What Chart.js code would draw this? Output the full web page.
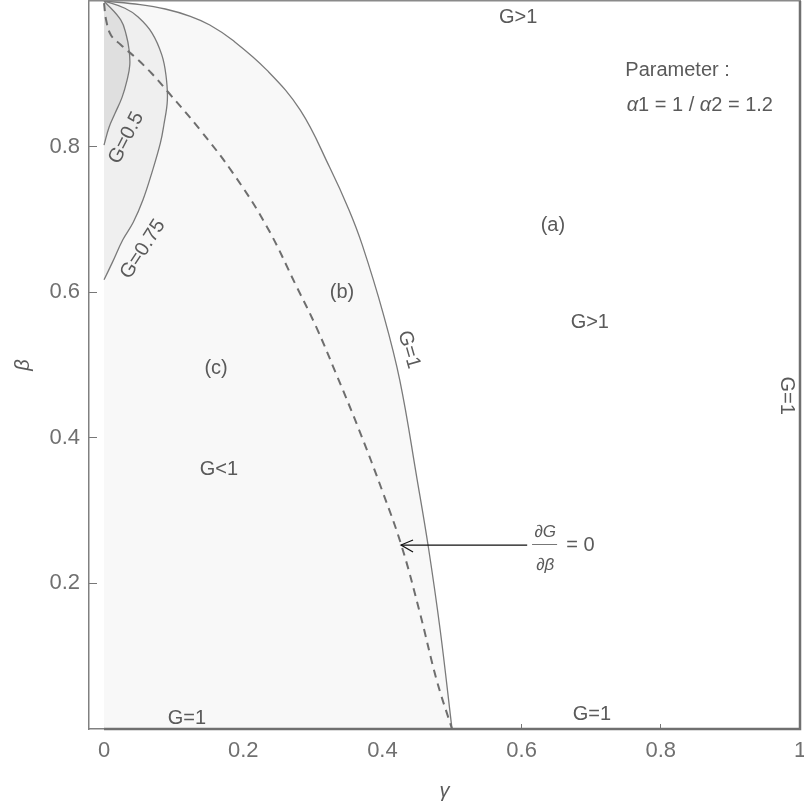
<!DOCTYPE html>
<html><head><meta charset="utf-8">
<script src="https://cdn.jsdelivr.net/npm/chart.js@4.4.1/dist/chart.umd.min.js"></script>
<style>html,body{margin:0;padding:0;background:#fff;}canvas{display:block;}</style>
</head><body>
<canvas id="c" width="804" height="811"></canvas>
<script>
// ---- tick values / labels ----
const xTickValues = [0, 0.2, 0.4, 0.6, 0.8, 1];
const xTickLabels = ['0', '0.2', '0.4', '0.6', '0.8', '1'];
const yTickValues = [0.2, 0.4, 0.6, 0.8];
const yTickLabels = ['0.2', '0.4', '0.6', '0.8'];

// ---- contour G = 1 (boundary between regions (b) and (a)) ----
const g1Gamma = [0, 0.052, 0.088, 0.124, 0.152, 0.185, 0.234, 0.282, 0.324, 0.352, 0.371, 0.401, 0.425, 0.450, 0.466, 0.483, 0.5];
const g1Beta  = [1, 0.995, 0.989, 0.979, 0.967, 0.946, 0.905, 0.850, 0.772, 0.713, 0.665, 0.571, 0.479, 0.342, 0.250, 0.136, 0];

// ---- dG/dbeta = 0 (dashed) ----
const dGamma = [0, 0.003, 0.010, 0.024, 0.049, 0.069, 0.092, 0.138, 0.185, 0.234, 0.277, 0.305, 0.333, 0.366, 0.401, 0.428, 0.454, 0.478, 0.5];
const dBeta  = [0.997, 0.974, 0.953, 0.940, 0.919, 0.900, 0.875, 0.823, 0.764, 0.690, 0.607, 0.552, 0.489, 0.412, 0.324, 0.250, 0.159, 0.067, 0];

// ---- contour G = 0.5 ----
const g05Gamma = [0, 0.024, 0.032, 0.036, 0.037, 0.033, 0.026, 0.016, 0.007, 0];
const g05Beta  = [1, 0.974, 0.953, 0.933, 0.912, 0.891, 0.868, 0.846, 0.826, 0.802];

// ---- contour G = 0.75 ----
const g075Gamma = [0, 0.030, 0.049, 0.069, 0.083, 0.089, 0.091, 0.086, 0.081, 0.069, 0.056, 0.042, 0.027, 0.012, 0];
const g075Beta  = [1, 0.990, 0.978, 0.956, 0.926, 0.898, 0.864, 0.830, 0.805, 0.765, 0.727, 0.696, 0.672, 0.641, 0.617];

// ---- contour G = 1 along the edges beta = 0 and gamma = 1 ----
const edgeGamma = [0, 1, 1];
const edgeBeta  = [0, 0, 1];

// ---- arrow pointing at the dashed curve ----
const arrowGamma = [0.608, 0.4267];
const arrowBeta  = [0.2527, 0.2527];
const headGamma  = [0.444, 0.4267, 0.444];
const headBeta   = [0.2596, 0.2527, 0.2431];

const pts = (gs, bs) => gs.map((g, i) => ({x: g, y: bs[i]}));

const FONT = '"Liberation Sans", Arial, sans-serif';
const TXT = '#5a5a5a';
const LINE = '#7a7a7a';

// annotation texts (placed in data coordinates)
const notes = [
  {t: 'G>1', g: 0.595, b: 0.978},
  {t: 'Parameter :', g: 0.749, b: 0.904, align: 'left'},
  {parts: [['α', true], ['1 = 1 / ', false], ['α', true], ['2 = 1.2', false]], g: 0.751, b: 0.857},
  {t: '(a)', g: 0.645, b: 0.691},
  {t: 'G>1', g: 0.698, b: 0.559},
  {t: '(b)', g: 0.342, b: 0.600},
  {t: 'G=1', g: 0.438, b: 0.521, rot: 74},
  {t: '(c)', g: 0.161, b: 0.495},
  {t: 'G<1', g: 0.165, b: 0.357},
  {t: 'G=1', g: 0.119, b: 0.0144},
  {t: 'G=1', g: 0.701, b: 0.0206},
  {t: 'G=1', g: 0.980, b: 0.458, rot: 90},
  {t: 'G=0.5', g: 0.032, b: 0.812, rot: -63},
  {t: 'G=0.75', g: 0.056, b: 0.659, rot: -57},
  {t: '∂G', g: 0.634, b: 0.2706, size: 17, italic: true},
  {t: '∂β', g: 0.634, b: 0.2253, size: 17, italic: true},
  {t: '= 0', g: 0.664, b: 0.2527, align: 'left'}
];
const fracBar = {g0: 0.615, g1: 0.651, b: 0.2541};

const annotPlugin = {
  id: 'annot',
  afterDatasetsDraw(chart) {
    const {ctx, scales: {x, y}} = chart;
    ctx.save();
    ctx.fillStyle = TXT;
    ctx.textBaseline = 'middle';
    for (const n of notes) {
      const px = x.getPixelForValue(n.g), py = y.getPixelForValue(n.b);
      const size = n.size || 20;
      ctx.save();
      ctx.translate(px, py);
      ctx.rotate((n.rot || 0) * Math.PI / 180);
      if (n.parts) {
        let cx = 0;
        ctx.textAlign = 'left';
        for (const [s, it] of n.parts) {
          ctx.font = (it ? 'italic ' : '') + size + 'px ' + FONT;
          ctx.fillText(s, cx, 0);
          cx += ctx.measureText(s).width;
        }
      } else {
        ctx.font = (n.italic ? 'italic ' : '') + size + 'px ' + FONT;
        ctx.textAlign = n.align || 'center';
        ctx.fillText(n.t, 0, 0);
      }
      ctx.restore();
    }
    ctx.strokeStyle = '#777';
    ctx.lineWidth = 1;
    const by = Math.round(y.getPixelForValue(fracBar.b)) + 0.5;
    ctx.beginPath();
    ctx.moveTo(x.getPixelForValue(fracBar.g0), by);
    ctx.lineTo(x.getPixelForValue(fracBar.g1), by);
    ctx.stroke();
    ctx.restore();
  }
};

const zeroPad = s => { s.paddingLeft = 0; s.paddingRight = 0; s.paddingTop = 0; s.paddingBottom = 0; };
const tickFont = {family: FONT, size: 22};

new Chart(document.getElementById('c'), {
  type: 'scatter',
  data: {
    datasets: [
      {label: 'G=1', data: pts(g1Gamma, g1Beta), showLine: true, fill: 'origin',
       backgroundColor: '#f8f8f8', borderColor: LINE, borderWidth: 1.3, pointRadius: 0,
       tension: 0.4, order: 30},
      {label: 'G=0.75', data: pts(g075Gamma, g075Beta), showLine: true, fill: 'shape',
       backgroundColor: '#efefef', borderColor: LINE, borderWidth: 1.3, pointRadius: 0,
       tension: 0.4, order: 20},
      {label: 'G=0.5', data: pts(g05Gamma, g05Beta), showLine: true, fill: 'shape',
       backgroundColor: '#dfdfdf', borderColor: LINE, borderWidth: 1.3, pointRadius: 0,
       tension: 0.4, order: 10},
      {label: 'G=1 edge', data: pts(edgeGamma, edgeBeta), showLine: true, fill: false,
       borderColor: '#707070', borderWidth: 2.5, pointRadius: 0, clip: 3, order: 4},
      {label: 'dG/dbeta=0', data: pts(dGamma, dBeta), showLine: true, fill: false,
       borderColor: '#6e6e6e', borderWidth: 2, borderDash: [8, 6], pointRadius: 0,
       tension: 0.4, order: 3},
      {label: 'arrow', data: pts(arrowGamma, arrowBeta), showLine: true, fill: false,
       borderColor: '#111', borderWidth: 1.2, pointRadius: 0, order: 2},
      {label: 'arrowhead', data: pts(headGamma, headBeta), showLine: true, fill: false,
       borderColor: '#111', borderWidth: 1.2, pointRadius: 0, order: 1}
    ]
  },
  options: {
    responsive: false,
    animation: false,
    devicePixelRatio: 1,
    layout: {padding: {top: 1, right: 4, left: 0, bottom: 0}},
    plugins: {legend: {display: false}, tooltip: {enabled: false}},
    events: [],
    scales: {
      x: {
        type: 'linear', position: 'bottom', min: -0.0216, max: 1,
        afterBuildTicks: s => { s.ticks = xTickValues.map(v => ({value: v})); },
        afterFit: s => { s.height = 82; zeroPad(s); },
        ticks: {callback: v => xTickLabels[xTickValues.indexOf(v)], font: tickFont, color: '#707070',
                padding: 14, maxRotation: 0, autoSkip: false},
        grid: {drawOnChartArea: false, drawTicks: true, tickLength: -5, color: '#777', lineWidth: 1},
        border: {display: true, color: '#808080', width: 1.5},
        title: {display: true, text: 'γ', color: TXT, font: {family: FONT, size: 20, style: 'italic'},
                padding: {top: 0, bottom: 8}}
      },
      y: {
        type: 'linear', position: 'left', min: 0, max: 1,
        afterBuildTicks: s => { s.ticks = yTickValues.map(v => ({value: v})); },
        afterFit: s => { s.width = 89; zeroPad(s); },
        ticks: {callback: v => yTickLabels[yTickValues.indexOf(v)], font: tickFont, color: '#707070',
                padding: 17, autoSkip: false},
        grid: {drawOnChartArea: false, drawTicks: true, tickLength: -8, color: '#777', lineWidth: 1},
        border: {display: true, color: '#808080', width: 1.5},
        title: {display: true, text: 'β', color: TXT, font: {family: FONT, size: 20, style: 'italic'},
                padding: {top: 11, bottom: 0}}
      },
      x2: {
        type: 'linear', position: 'top', min: 0, max: 1,
        afterFit: s => { s.height = 0; zeroPad(s); },
        ticks: {display: false}, grid: {drawOnChartArea: false, drawTicks: false},
        border: {display: true, color: '#8a8a8a', width: 1.5}
      },
      y2: {
        type: 'linear', position: 'right', min: 0, max: 1,
        afterFit: s => { s.width = 0; zeroPad(s); },
        ticks: {display: false}, grid: {drawOnChartArea: false, drawTicks: false},
        border: {display: true, color: '#8a8a8a', width: 1.5}
      }
    }
  },
  plugins: [annotPlugin]
});
</script>
</body></html>
